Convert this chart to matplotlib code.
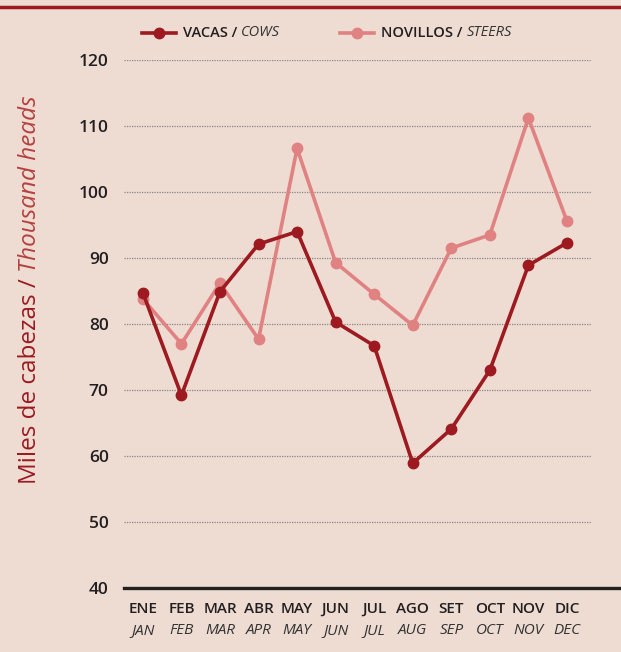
import numpy as np
import matplotlib.pyplot as plt
from matplotlib.lines import Line2D
from matplotlib.transforms import blended_transform_factory

plt.rcParams['font.family'] = ['Open Sans', 'DejaVu Sans']

# monthly slaughter, thousand heads
meses = ['ENE', 'FEB', 'MAR', 'ABR', 'MAY', 'JUN', 'JUL', 'AGO', 'SET', 'OCT', 'NOV', 'DIC']
months = ['JAN', 'FEB', 'MAR', 'APR', 'MAY', 'JUN', 'JUL', 'AUG', 'SEP', 'OCT', 'NOV', 'DEC']
vacas = [84.7, 69.2, 84.9, 92.1, 94.0, 80.3, 76.7, 58.9, 64.1, 73.0, 88.9, 92.3]
novillos = [83.8, 77.0, 86.2, 77.7, 106.6, 89.3, 84.5, 79.8, 91.5, 93.5, 111.2, 95.6]
yticks = [40, 50, 60, 70, 80, 90, 100, 110, 120]

bg = '#eedcd3'
c_cows = '#9c1a20'
c_steers = '#e08282'

fig = plt.figure(figsize=(6.21, 6.52), dpi=100, facecolor=bg)
W, H = 621, 652
ax = fig.add_axes([124 / W, 1 - 588 / H, (592 - 124) / W, (588 - 60) / H])
ax.set_facecolor(bg)

x = np.arange(len(meses))
ax.plot(x, novillos, color=c_steers, lw=2.6, marker='o', ms=7.5, zorder=3)
ax.plot(x, vacas, color=c_cows, lw=2.6, marker='o', ms=7.5, zorder=4)

ax.set_xlim(-0.49, 11.65)
ax.set_ylim(40, 120)
ax.set_yticks(yticks)
for t in yticks[1:]:
    ax.axhline(t, color='#8a8482', lw=0.9, ls=(0, (1, 1)), zorder=1)
for s in ax.spines.values():
    s.set_visible(False)
ax.plot([0, (W - 124) / (592 - 124)], [0, 0], transform=ax.transAxes,
        color='#231f20', lw=2.4, clip_on=False, zorder=5)

ax.tick_params(axis='y', length=0, pad=11, labelsize=12.5, labelcolor='#231f20')
for lab in ax.get_yticklabels():
    lab.set_fontweight('semibold')
ax.set_xticks([])
tr = blended_transform_factory(ax.transData, ax.transAxes)
for i in x:
    ax.text(i, -0.040, meses[i], transform=tr, ha='center', va='center',
            fontsize=11, fontweight='semibold', color='#231f20')
    ax.text(i, -0.080, months[i], transform=tr, ha='center', va='center',
            fontsize=11, style='italic', color='#333333')

# y label, two styles
ysplit = 1 - 272 / H
fig.text(30 / W, ysplit, 'Miles de cabezas / ', rotation=90, ha='center', va='top',
         fontsize=17.5, color=c_cows)
fig.text(30 / W, ysplit, 'Thousand heads', rotation=90, ha='center', va='bottom',
         fontsize=17.5, style='italic', color='#b5413f')

# legend drawn by hand
ly = 1 - 33 / H
for x0, col, name, eng in [(142, c_cows, 'VACAS / ', 'COWS'),
                           (340, c_steers, 'NOVILLOS / ', 'STEERS')]:
    fig.add_artist(Line2D([x0 / W, (x0 + 34) / W], [ly, ly], color=col, lw=2.6))
    fig.add_artist(Line2D([(x0 + 17) / W], [ly], color=col, marker='o', ms=7.5))
    t = fig.text((x0 + 41) / W, ly, name, ha='left', va='center', fontsize=10.5,
                 fontweight='semibold', color='#231f20')
    fig.canvas.draw()
    bb = t.get_window_extent()
    fig.text(bb.x1 / W, ly, eng, ha='left', va='center', fontsize=10.5,
             style='italic', color='#333333')

# top rule
fig.add_artist(Line2D([0, 1], [1 - 7 / H, 1 - 7 / H], color=c_cows, lw=2.5))

fig.savefig('out.png', dpi=100, facecolor=bg)
